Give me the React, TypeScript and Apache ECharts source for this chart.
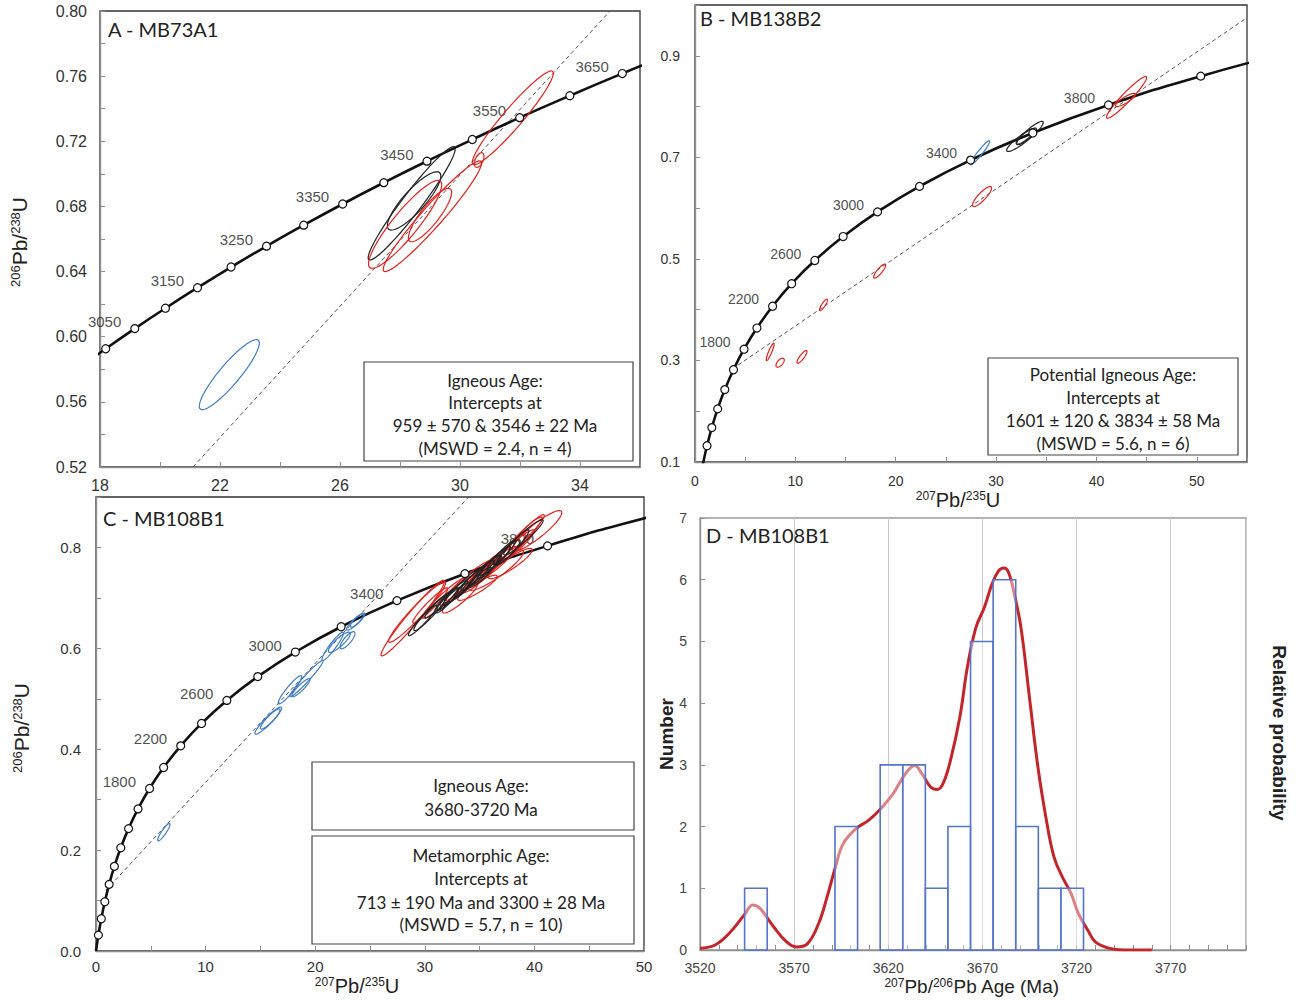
import { useEffect, useRef } from 'react';
import * as echarts from 'echarts';

// ---------- Panel A (MB73A1) ----------
const agesA = [2950, 3000, 3050, 3100, 3150, 3200, 3250, 3300, 3350, 3400, 3450, 3500, 3550, 3600, 3650, 3700];
const concordiaXA = [17.27, 18.19, 19.16, 20.18, 21.25, 22.37, 23.55, 24.79, 26.09, 27.46, 28.9, 30.41, 31.99, 33.66, 35.41, 37.24];
const concordiaYA = [0.5803, 0.5926, 0.605, 0.6175, 0.6301, 0.6428, 0.6556, 0.6685, 0.6815, 0.6946, 0.7078, 0.7211, 0.7345, 0.748, 0.7616, 0.7753];
const labelledAgesA = [3050, 3150, 3250, 3350, 3450, 3550, 3650];
const discordiaA = [[21.1, 0.52], [35.0, 0.8]];
// ellipses: [centre x, centre y, half-width x, half-height y, correlation]
const ellipsesRedA = [
  [31.76, 0.7344, 1.35, 0.0288, 0.95],
  [29.08, 0.674, 1.64, 0.034, 0.96],
  [28.17, 0.669, 1.22, 0.027, 0.9],
  [29.0, 0.6747, 0.72, 0.0164, 0.85],
  [30.64, 0.7085, 0.16, 0.0045, 0.5],
];
const ellipsesBlackA = [
  [28.39, 0.6819, 1.45, 0.0348, 0.96],
  [28.47, 0.6834, 0.89, 0.0179, 0.85],
];
const ellipsesBlueA = [[22.31, 0.5767, 1.0, 0.0215, 0.9]];

// ---------- Concordia every 200 Ma (panels B, C) ----------
const ages200 = [0, 200, 400, 600, 800, 1000, 1200, 1400, 1600, 1800, 2000, 2200, 2400, 2600, 2800, 3000, 3200, 3400, 3600, 3800, 4000, 4200];
const concordiaX200 = [0, 0.218, 0.483, 0.806, 1.199, 1.677, 2.26, 2.97, 3.834, 4.887, 6.169, 7.73, 9.63, 11.94, 14.76, 18.19, 22.37, 27.46, 33.66, 41.2, 50.39, 61.57];
const concordiaY200 = [0, 0.0315, 0.064, 0.0975, 0.1321, 0.1678, 0.2046, 0.2426, 0.2817, 0.3221, 0.3638, 0.4067, 0.4511, 0.4968, 0.544, 0.5926, 0.6428, 0.6946, 0.748, 0.8031, 0.8599, 0.9185];
const labelledAges200 = [1800, 2200, 2600, 3000, 3400, 3800];

// ---------- Panel B (MB138B2) ----------
const discordiaB = [[4.3, 0.291], [55, 0.975]];
const ellipsesRedB = [
  [43.0, 0.818, 2.0, 0.041, 0.95],
  [42.9, 0.813, 1.0, 0.013, 0.85],
  [28.6, 0.6228, 0.95, 0.0197, 0.85],
  [18.4, 0.476, 0.6, 0.0138, 0.85],
  [12.8, 0.4094, 0.39, 0.0112, 0.85],
  [7.49, 0.3168, 0.39, 0.0172, 0.9],
  [8.48, 0.2955, 0.41, 0.0089, 0.6],
  [10.66, 0.307, 0.5, 0.0125, 0.85],
];
const ellipsesBlackB = [
  [32.54, 0.7345, 1.49, 0.023, 0.9],
  [33.37, 0.7478, 1.33, 0.023, 0.9],
  [32.9, 0.741, 0.9, 0.015, 0.85],
];
const ellipsesBlueB = [[28.4, 0.709, 0.96, 0.0237, 0.95]];

// ---------- Panel C (MB108B1) ----------
const discordiaC = [[0.9, 0.12], [34.0, 0.9]];
const ellipsesBlueC = [
  [6.19, 0.2356, 0.56, 0.0172, 0.9],
  [15.72, 0.4567, 1.22, 0.027, 0.93],
  [15.9, 0.46, 0.9, 0.02, 0.9],
  [17.7, 0.518, 1.07, 0.028, 0.93],
  [18.7, 0.522, 0.83, 0.018, 0.9],
  [19.2, 0.54, 1.52, 0.036, 0.97],
  [21.6, 0.604, 0.98, 0.028, 0.93],
  [22.2, 0.612, 1.0, 0.02, 0.85],
  [22.95, 0.616, 0.68, 0.017, 0.8],
  [23.7, 0.653, 0.84, 0.017, 0.9],
  [23.8, 0.655, 0.6, 0.013, 0.85],
];
const ellipsesRedC = [
  [28.9, 0.66, 2.9, 0.075, 0.97],
  [29.3, 0.672, 2.6, 0.06, 0.96],
  [30.5, 0.685, 1.6, 0.035, 0.95],
  [31.8, 0.7, 2.0, 0.04, 0.95],
  [33.0, 0.715, 1.6, 0.03, 0.93],
  [34.0, 0.735, 2.2, 0.04, 0.95],
  [34.8, 0.72, 1.8, 0.025, 0.9],
  [35.2, 0.745, 1.8, 0.035, 0.94],
  [35.8, 0.76, 2.0, 0.04, 0.95],
  [36.5, 0.755, 2.5, 0.04, 0.9],
  [36.8, 0.772, 1.5, 0.03, 0.93],
  [37.2, 0.785, 2.0, 0.04, 0.95],
  [37.8, 0.768, 2.0, 0.03, 0.9],
  [38.2, 0.8, 1.8, 0.035, 0.94],
  [38.7, 0.815, 2.0, 0.045, 0.95],
  [39.3, 0.83, 1.6, 0.035, 0.95],
  [40.25, 0.833, 2.25, 0.04, 0.9],
  [33.2, 0.7, 1.6, 0.03, 0.9],
];
const ellipsesBlackC = [
  [29.8, 0.655, 1.3, 0.03, 0.95],
  [30.5, 0.67, 1.5, 0.035, 0.95],
  [31.5, 0.69, 1.5, 0.03, 0.95],
  [32.5, 0.705, 1.4, 0.03, 0.95],
  [33.3, 0.72, 1.6, 0.035, 0.95],
  [34.0, 0.73, 1.3, 0.028, 0.95],
  [34.8, 0.745, 1.5, 0.03, 0.95],
  [35.5, 0.755, 1.4, 0.03, 0.95],
  [36.3, 0.77, 1.5, 0.032, 0.95],
  [37.0, 0.785, 1.3, 0.03, 0.95],
  [38.0, 0.8, 1.5, 0.035, 0.95],
  [39.0, 0.82, 1.8, 0.035, 0.95],
  [33.0, 0.71, 1.2, 0.02, 0.9],
  [35.0, 0.74, 1.1, 0.02, 0.9],
  [36.0, 0.765, 1.0, 0.02, 0.9],
  [32.0, 0.695, 1.1, 0.025, 0.9],
  [37.5, 0.79, 1.2, 0.025, 0.9],
];

// ---------- Panel D (MB108B1 histogram) ----------
const binWidth = 12;
const histStarts = [3543.7, 3591.7, 3615.7, 3627.7, 3639.7, 3651.7, 3663.7, 3675.7, 3687.7, 3699.7, 3711.7];
const histCounts = [1, 2, 3, 3, 1, 2, 5, 6, 2, 1, 1];
const probAges = [3520, 3528, 3537, 3544, 3548, 3552, 3559, 3566, 3571, 3577, 3583, 3587.5, 3592, 3596, 3603, 3609.5, 3616, 3622.5, 3629, 3634, 3638, 3642.5, 3646, 3649, 3653, 3658, 3662, 3666.5, 3671, 3675, 3678.5, 3681.5, 3684, 3687, 3690.5, 3695, 3699.5, 3704, 3708, 3712.5, 3717, 3721, 3726, 3730, 3737, 3745, 3760];
const probValues = [0.03, 0.08, 0.32, 0.59, 0.73, 0.67, 0.38, 0.13, 0.05, 0.1, 0.43, 0.86, 1.35, 1.72, 1.97, 2.1, 2.29, 2.53, 2.85, 2.99, 2.85, 2.64, 2.6, 2.69, 3.07, 3.77, 4.58, 5.22, 5.55, 5.92, 6.14, 6.19, 6.11, 5.76, 5.22, 4.09, 2.96, 2.1, 1.51, 1.18, 0.92, 0.59, 0.32, 0.13, 0.03, 0.0, 0.0];

const SANS = "'Liberation Sans', Arial, sans-serif";
const CAL = "Lato, 'Open Sans', sans-serif";

function ellipseSeries(idx: number, data: number[][], color: string, width = 1.2) {
  return {
    type: 'custom',
    xAxisIndex: idx,
    yAxisIndex: idx,
    data,
    encode: { x: 0, y: 1 },
    silent: true,
    clip: true,
    z: 5,
    renderItem: (_p: any, api: any) => {
      const cx = api.value(0), cy = api.value(1), sx = api.value(2), sy = api.value(3), r = api.value(4);
      const q = Math.sqrt(1 - r * r);
      const pts: number[][] = [];
      for (let i = 0; i < 72; i++) {
        const t = (i / 72) * Math.PI * 2;
        pts.push(api.coord([cx + sx * Math.cos(t), cy + sy * (r * Math.cos(t) + q * Math.sin(t))]));
      }
      return { type: 'polygon', shape: { points: pts }, style: { fill: 'none', stroke: color, lineWidth: width } };
    },
  };
}

function concordiaLine(idx: number, xs: number[], ys: number[]) {
  return {
    type: 'line', xAxisIndex: idx, yAxisIndex: idx,
    data: xs.map((x, i) => [x, ys[i]]),
    smooth: 0.5, symbol: 'none', showSymbol: false, silent: true, clip: true,
    lineStyle: { color: '#111', width: 2.6 }, z: 4,
  };
}

function markerSeries(idx: number, ages: number[], xs: number[], ys: number[], minAge: number) {
  return {
    type: 'scatter', xAxisIndex: idx, yAxisIndex: idx, silent: true, clip: true,
    data: ages.map((a, i) => [xs[i], ys[i], a]).filter((d) => d[2] >= minAge),
    symbol: 'circle', symbolSize: 8,
    itemStyle: { color: '#fff', borderColor: '#111', borderWidth: 1.2, opacity: 1 },
    z: 7,
  };
}

function ageLabelSeries(idx: number, ages: number[], xs: number[], ys: number[], labelled: number[], fs: number) {
  return {
    type: 'scatter', xAxisIndex: idx, yAxisIndex: idx, silent: true,
    data: ages.map((a, i) => [xs[i], ys[i], a]).filter((d) => labelled.includes(d[2])),
    symbolSize: 1, itemStyle: { color: 'rgba(0,0,0,0)' },
    label: {
      show: true, position: 'left', distance: 0, offset: [-13, -7],
      formatter: (p: any) => String(p.value[2]),
      fontSize: fs, color: '#222', fontFamily: SANS,
    },
    z: 3,
  };
}

function discordia(idx: number, pts: number[][]) {
  return {
    type: 'line', xAxisIndex: idx, yAxisIndex: idx, data: pts, symbol: 'none', silent: true, clip: true,
    lineStyle: { color: '#555', width: 1, type: [4, 3] }, z: 2,
  };
}

function valAxis(grid: number, min: number, max: number, interval: number, fmt: (v: number) => string, fs: number, margin: number, color = '#333') {
  return {
    type: 'value', gridIndex: grid, min, max, interval,
    axisLine: { show: true, onZero: false, lineStyle: { color: '#8f8f8f', width: 1.4 } },
    axisTick: { show: true, inside: true, length: 5, lineStyle: { color: '#8f8f8f', width: 1 } },
    splitLine: { show: false },
    axisLabel: { formatter: fmt, fontSize: fs, color, fontFamily: SANS, margin, showMinLabel: true, showMaxLabel: true },
  };
}

function supTitle(pre: string, mid: string, sup2: string, post: string, x: number, y: number, big: number, small: number, rotation = 0) {
  return {
    type: 'text', x, y, rotation, z: 100,
    style: {
      text: `{s|${pre}}{b|${mid}}{s|${sup2}}{b|${post}}`,
      align: 'center', verticalAlign: 'middle',
      rich: {
        s: { fontSize: small, fontFamily: SANS, fill: '#222', lineHeight: small, verticalAlign: 'top' },
        b: { fontSize: big, fontFamily: SANS, fill: '#222', lineHeight: big },
      },
    },
  };
}

function boxText(lines: string[], cx: number, ys: number[], fs: number) {
  return lines.map((t, i) => ({
    type: 'text', x: cx, y: ys[i], z: 101,
    style: { text: t, align: 'center', verticalAlign: 'middle', fontSize: fs, fontFamily: CAL, fill: '#222' },
  }));
}

function rectBox(x: number, y: number, w: number, h: number) {
  return { type: 'rect', z: 100, shape: { x, y, width: w, height: h }, style: { fill: '#fff', stroke: '#444', lineWidth: 1.2 } };
}

export default function App() {
  const ref = useRef<HTMLDivElement>(null);
  useEffect(() => {
    if (!ref.current) return;
    const chart = echarts.init(ref.current, undefined, { renderer: 'svg' });
    const frame = { show: true, borderColor: '#333', borderWidth: 1.3, backgroundColor: 'transparent' };
    const option: any = {
      animation: false,
      backgroundColor: '#fff',
      grid: [
        { left: 100, top: 11, width: 540, height: 456, ...frame },
        { left: 695, top: 5, width: 552, height: 457, ...frame },
        { left: 96, top: 497, width: 548, height: 454, ...frame },
        { left: 700, top: 518, width: 546, height: 432, ...frame, borderColor: '#9a9a9a' },
      ],
      xAxis: [
        valAxis(0, 18, 36, 2, (v) => ((Math.round(v) - 18) % 4 === 0 ? String(Math.round(v)) : ''), 16, 10),
        valAxis(1, 0, 55, 5, (v) => (Math.round(v) % 10 === 0 ? String(Math.round(v)) : ''), 14, 12),
        valAxis(2, 0, 50, 5, (v) => (Math.round(v) % 10 === 0 ? String(Math.round(v)) : ''), 15, 8),
        valAxis(3, 3520, 3810, 10, (v) => ((Math.round(v) - 3520) % 50 === 0 ? String(Math.round(v)) : ''), 14, 11, '#444'),
        {
          type: 'value', gridIndex: 3, min: 3520, max: 3810, interval: 50, position: 'top',
          axisLine: { show: false }, axisTick: { show: false }, axisLabel: { show: false },
          splitLine: { show: true, lineStyle: { color: '#c9c9c9', width: 1 } },
        },
      ],
      yAxis: [
        valAxis(0, 0.52, 0.8, 0.02, (v) => { const k = Math.round(v * 100); return k % 4 === 0 ? (k / 100).toFixed(2) : ''; }, 16, 13),
        valAxis(1, 0.1, 1.0, 0.1, (v) => { const k = Math.round(v * 10); return k % 2 === 1 ? (k / 10).toFixed(1) : ''; }, 14, 15),
        valAxis(2, 0, 0.9, 0.1, (v) => { const k = Math.round(v * 10); return k % 2 === 0 && k < 9 ? (k / 10).toFixed(1) : ''; }, 15, 15),
        valAxis(3, 0, 7, 1, (v) => String(Math.round(v)), 14, 13, '#444'),
      ],
      series: [
        // A
        discordia(0, discordiaA),
        concordiaLine(0, concordiaXA, concordiaYA),
        ageLabelSeries(0, agesA, concordiaXA, concordiaYA, labelledAgesA, 15),
        ellipseSeries(0, ellipsesBlueA, '#3f7cc4'),
        ellipseSeries(0, ellipsesBlackA, '#222'),
        ellipseSeries(0, ellipsesRedA, '#e3221d'),
        markerSeries(0, agesA, concordiaXA, concordiaYA, 0),
        // B
        discordia(1, discordiaB),
        concordiaLine(1, concordiaX200, concordiaY200),
        ageLabelSeries(1, ages200, concordiaX200, concordiaY200, labelledAges200, 14),
        ellipseSeries(1, ellipsesBlueB, '#3f7cc4'),
        ellipseSeries(1, ellipsesBlackB, '#222'),
        ellipseSeries(1, ellipsesRedB, '#e3221d'),
        markerSeries(1, ages200, concordiaX200, concordiaY200, 800),
        // C
        discordia(2, discordiaC),
        concordiaLine(2, concordiaX200, concordiaY200),
        ageLabelSeries(2, ages200, concordiaX200, concordiaY200, labelledAges200, 15),
        ellipseSeries(2, ellipsesBlueC, '#3f7cc4'),
        ellipseSeries(2, ellipsesRedC, '#e3221d'),
        ellipseSeries(2, ellipsesBlackC, '#222'),
        markerSeries(2, ages200, concordiaX200, concordiaY200, 200),
        // D
        {
          type: 'line', xAxisIndex: 3, yAxisIndex: 3, silent: true,
          data: probAges.map((a, i) => [a, probValues[i]]),
          smooth: 0.4, symbol: 'none', lineStyle: { color: '#c3262a', width: 3 }, z: 3,
        },
        {
          type: 'custom', xAxisIndex: 3, yAxisIndex: 3, silent: true, z: 4,
          data: histStarts.map((s, i) => [s, histCounts[i]]),
          encode: { x: 0, y: 1 },
          renderItem: (_p: any, api: any) => {
            const s = api.value(0), c = api.value(1);
            const p0 = api.coord([s, 0]);
            const p1 = api.coord([s + binWidth, c]);
            return {
              type: 'rect',
              shape: { x: p0[0], y: p1[1], width: p1[0] - p0[0], height: p0[1] - p1[1] },
              style: { fill: 'rgba(255,255,255,0.42)', stroke: '#5674c9', lineWidth: 1.6 },
            };
          },
        },
      ],
      graphic: [
        { type: 'text', x: 108, y: 29, z: 100, style: { text: 'A - MB73A1', fontSize: 20, fontFamily: CAL, fill: '#222', verticalAlign: 'middle' } },
        { type: 'text', x: 700, y: 18, z: 100, style: { text: 'B - MB138B2', fontSize: 20, fontFamily: CAL, fill: '#222', verticalAlign: 'middle' } },
        { type: 'text', x: 103, y: 518, z: 100, style: { text: 'C - MB108B1', fontSize: 20, fontFamily: CAL, fill: '#222', verticalAlign: 'middle' } },
        { type: 'text', x: 706, y: 535, z: 100, style: { text: 'D - MB108B1', fontSize: 20, fontFamily: CAL, fill: '#222', verticalAlign: 'middle' } },
        supTitle('206', 'Pb/', '238', 'U', 19, 242, 21, 13, Math.PI / 2),
        supTitle('206', 'Pb/', '238', 'U', 21, 728, 21, 13, Math.PI / 2),
        supTitle('207', 'Pb/', '235', 'U', 958, 500, 20, 12),
        supTitle('207', 'Pb/', '235', 'U', 357, 986, 20, 12),
        supTitle('207', 'Pb/', '206', 'Pb Age (Ma)', 972, 986, 19, 12),
        { type: 'text', x: 666, y: 734, rotation: Math.PI / 2, z: 100, style: { text: 'Number', fontSize: 19, fontWeight: 'bold', fontFamily: SANS, fill: '#222', align: 'center', verticalAlign: 'middle' } },
        { type: 'text', x: 1279, y: 733, rotation: -Math.PI / 2, z: 100, style: { text: 'Relative probability', fontSize: 19, fontWeight: 'bold', fontFamily: SANS, fill: '#222', align: 'center', verticalAlign: 'middle' } },
        rectBox(364, 362, 269, 99),
        ...boxText(['Igneous Age:', 'Intercepts at', '959 ± 570 & 3546 ± 22 Ma', '(MSWD = 2.4, n = 4)'], 495, [380, 402, 425, 448], 17),
        rectBox(988, 358, 250, 97),
        ...boxText(['Potential Igneous Age:', 'Intercepts at', '1601 ± 120 & 3834 ± 58 Ma', '(MSWD = 5.6, n = 6)'], 1113, [374, 397, 420, 443], 17),
        rectBox(312, 762, 322, 68),
        ...boxText(['Igneous Age:', '3680-3720 Ma'], 481, [785, 809], 17),
        rectBox(312, 836, 322, 108),
        ...boxText(['Metamorphic Age:', 'Intercepts at', '713 ± 190 Ma and 3300 ± 28 Ma', '(MSWD = 5.7, n = 10)'], 481, [855, 878, 902, 924], 17),
      ],
    };
    chart.setOption(option);
    return () => chart.dispose();
  }, []);
  return <div ref={ref} style={{ position: 'absolute', left: 0, top: 0, width: 1296, height: 1000 }} />;
}
